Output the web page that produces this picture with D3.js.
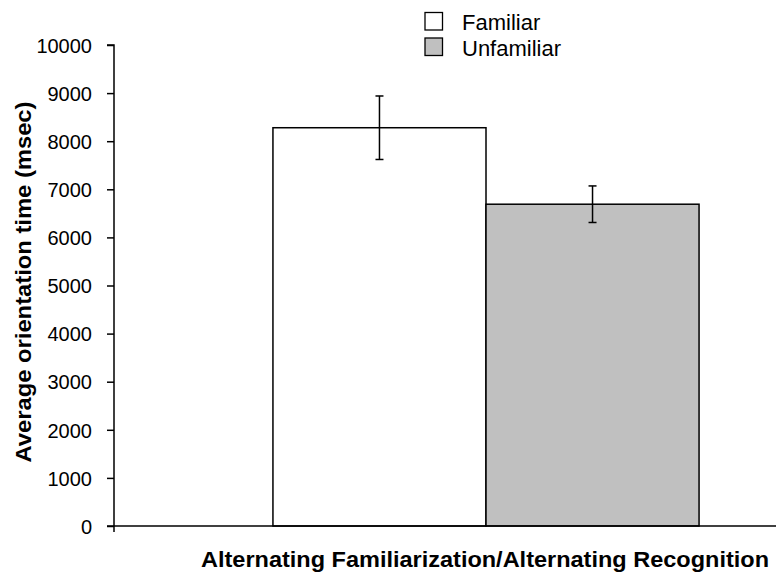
<!DOCTYPE html>
<html>
<head>
<meta charset="utf-8">
<script src="https://cdn.jsdelivr.net/npm/d3@7"></script>
<style>
  body { margin: 0; background: #fff; }
  text { font-family: "Liberation Sans", Arial, sans-serif; fill: #000; }
</style>
</head>
<body>
<div id="container"></div>
<script>
const categories = ["Alternating Familiarization/Alternating Recognition"];
const series = ["Familiar", "Unfamiliar"];
const means = [8280, 6690];
const errors = [660, 380];
const yTicks = [0, 1000, 2000, 3000, 4000, 5000, 6000, 7000, 8000, 9000, 10000];
const colors = ["#ffffff", "#c0c0c0"];

const width = 776, height = 576;
const plotLeft = 114, plotBottom = 526, plotTop = 45;

const svg = d3.select("#container").append("svg")
  .attr("width", width).attr("height", height);

const y = d3.scaleLinear().domain([0, 10000]).range([plotBottom, plotTop]);

// category band runs past the right edge, as in the original
const x0 = d3.scaleBand().domain(categories).range([plotLeft, 858])
  .paddingInner(0).paddingOuter(0.373);
const x1 = d3.scaleBand().domain(series).range([0, x0.bandwidth()]);

const yAxis = svg.append("g")
  .attr("transform", `translate(${plotLeft},0)`)
  .call(d3.axisLeft(y).tickValues(yTicks).tickSize(7).tickPadding(15).tickFormat(d3.format("d")));
yAxis.select(".domain").attr("d", `M-7,${plotTop}H0V${plotBottom}`).attr("stroke-width", 1.5);
yAxis.selectAll(".tick line").attr("stroke-width", 1.5);
yAxis.selectAll(".tick text").style("font-size", "20px").attr("dy", "0.36em");

const g = svg.append("g").attr("transform", `translate(${x0(categories[0])},0)`);

g.selectAll("rect.bar").data(means).join("rect")
  .attr("class", "bar")
  .attr("x", (d, i) => x1(series[i]))
  .attr("y", d => y(d))
  .attr("width", x1.bandwidth())
  .attr("height", d => y(0) - y(d))
  .attr("fill", (d, i) => colors[i])
  .attr("stroke", "#000")
  .attr("stroke-width", 1.5);

// error bars
const eb = g.selectAll("g.err").data(means).join("g").attr("class", "err")
  .attr("transform", (d, i) => `translate(${x1(series[i]) + x1.bandwidth() / 2},0)`);
eb.append("line")
  .attr("y1", (d, i) => y(d + errors[i])).attr("y2", (d, i) => y(d - errors[i]))
  .attr("stroke", "#000").attr("stroke-width", 1.5);
eb.append("line").attr("x1", -4).attr("x2", 4)
  .attr("y1", (d, i) => y(d + errors[i])).attr("y2", (d, i) => y(d + errors[i]))
  .attr("stroke", "#000").attr("stroke-width", 1.5);
eb.append("line").attr("x1", -4).attr("x2", 4)
  .attr("y1", (d, i) => y(d - errors[i])).attr("y2", (d, i) => y(d - errors[i]))
  .attr("stroke", "#000").attr("stroke-width", 1.5);

// x axis line
svg.append("line")
  .attr("x1", plotLeft - 7).attr("x2", width)
  .attr("y1", plotBottom).attr("y2", plotBottom)
  .attr("stroke", "#000").attr("stroke-width", 1.5);
svg.append("line")
  .attr("x1", plotLeft).attr("x2", plotLeft)
  .attr("y1", plotBottom).attr("y2", plotBottom + 6)
  .attr("stroke", "#000").attr("stroke-width", 1.5);

// axis titles
svg.append("text")
  .attr("transform", `translate(31,282) rotate(-90)`)
  .attr("text-anchor", "middle")
  .attr("textLength", 361).attr("lengthAdjust", "spacingAndGlyphs")
  .style("font-size", "22.5px").style("font-weight", "bold")
  .text("Average orientation time (msec)");

svg.append("text")
  .attr("x", 485)
  .attr("y", 567)
  .attr("text-anchor", "middle")
  .attr("textLength", 568).attr("lengthAdjust", "spacingAndGlyphs")
  .style("font-size", "22.5px").style("font-weight", "bold")
  .text(categories[0]);

// legend
const legend = svg.append("g").attr("transform", "translate(425,12.5)");
const li = legend.selectAll("g").data(series).join("g")
  .attr("transform", (d, i) => `translate(0,${i * 25.5})`);
li.append("rect").attr("width", 17.5).attr("height", 17.5)
  .attr("fill", (d, i) => colors[i]).attr("stroke", "#000").attr("stroke-width", 1.3);
li.append("text").attr("x", 37).attr("y", 17.5)
  .style("font-size", "22px").text(d => d);
</script>
</body>
</html>
